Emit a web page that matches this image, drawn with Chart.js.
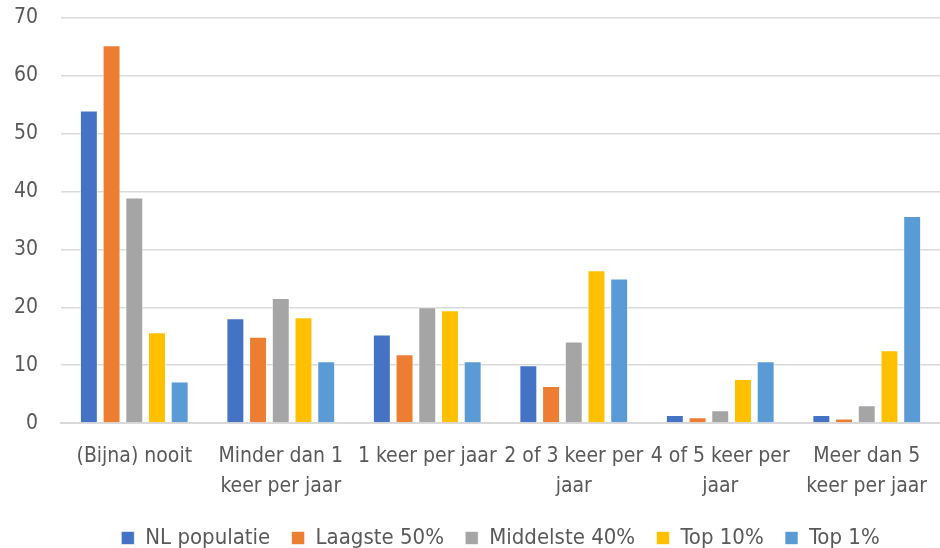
<!DOCTYPE html>
<html>
<head>
<meta charset="utf-8">
<script src="https://cdn.jsdelivr.net/npm/chart.js@4"></script>
<style>
  html, body { margin: 0; padding: 0; background: #fff; }
  #wrap { width: 940px; height: 548px; }
</style>
</head>
<body>
<div id="wrap"><canvas id="freqChart"></canvas></div>
<script>
var categories = [
    "(Bijna) nooit",
    ["Minder dan 1", "keer per jaar"],
    "1 keer per jaar",
    ["2 of 3 keer per", "jaar"],
    ["4 of 5 keer per", "jaar"],
    ["Meer dan 5", "keer per jaar"]
];
var nlPopulatie = [54, 18.1, 15.3, 10, 1.4, 1.4];
var laagste50 = [65.3, 14.9, 11.9, 6.4, 1.0, 0.8];
var middelste40 = [39, 21.6, 20, 14.1, 2.2, 3.1];
var top10 = [15.7, 18.3, 19.5, 26.4, 7.6, 12.6];
var top1 = [7.2, 10.7, 10.7, 25, 10.7, 35.8];
var yTicks = [0, 10, 20, 30, 40, 50, 60, 70];

var fontFamily = "'Liberation Sans Narrow', 'DejaVu Sans Condensed', 'Liberation Sans', sans-serif";

function series(label, data, color) {
    return {
        label: label,
        data: data,
        backgroundColor: color,
        borderColor: "rgba(255,255,255,0.6)",
        borderWidth: 1,
        categoryPercentage: 0.775,
        barPercentage: 0.79
    };
}

var config = {
    type: "bar",
    data: {
        labels: categories,
        datasets: [
            series("NL populatie", nlPopulatie, "#4472c4"),
            series("Laagste 50%", laagste50, "#ed7d31"),
            series("Middelste 40%", middelste40, "#a5a5a5"),
            series("Top 10%", top10, "#ffc000"),
            series("Top 1%", top1, "#5b9bd5")
        ]
    },
    options: {
        responsive: true,
        maintainAspectRatio: false,
        animation: false,
        layout: { padding: { top: 18, right: 0, left: 10, bottom: -11 } },
        plugins: {
            legend: {
                position: "bottom",
                fullSize: false,
                labels: {
                    boxWidth: 13,
                    boxHeight: 13,
                    padding: 15,
                    color: "#595959",
                    font: { family: fontFamily, size: 22 },
                    // a little extra room after each entry, like the original legend
                    generateLabels: function (chart) {
                        var items = Chart.defaults.plugins.legend.labels.generateLabels(chart);
                        items.forEach(function (it, i) {
                            if (i < items.length - 1) it.text = it.text + "\u00a0";
                        });
                        return items;
                    }
                }
            },
            tooltip: { enabled: false }
        },
        scales: {
            x: {
                grid: { display: false },
                border: { color: "#d9d9d9", width: 2 },
                ticks: {
                    color: "#595959",
                    maxRotation: 0,
                    autoSkip: false,
                    padding: 10,
                    font: { family: fontFamily, size: 21, lineHeight: 1.45 }
                }
            },
            y: {
                min: 0,
                max: 70,
                afterBuildTicks: function (axis) {
                    axis.ticks = yTicks.map(function (v) { return { value: v }; });
                },
                grid: { color: "#d9d9d9", lineWidth: 1.5, tickLength: 19, tickColor: "rgba(0,0,0,0)" },
                border: { display: false },
                ticks: {
                    color: "#595959",
                    padding: 4,
                    font: { family: fontFamily, size: 21 }
                }
            }
        }
    }
};

var freqChart = new Chart(document.getElementById("freqChart"), config);
</script>
</body>
</html>
